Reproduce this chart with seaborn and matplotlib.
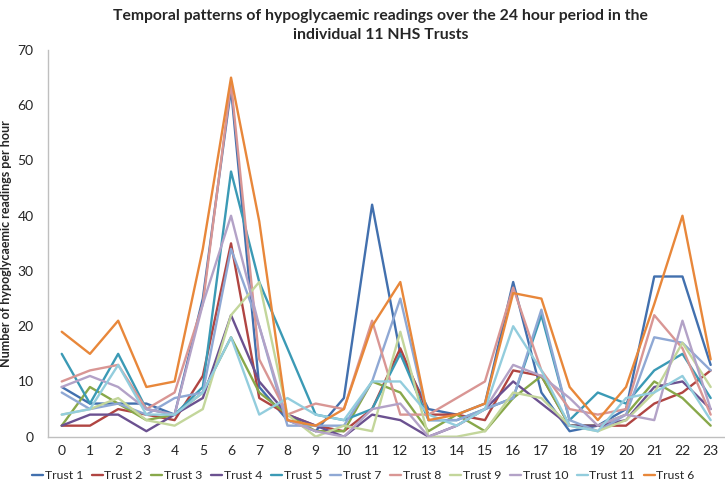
import matplotlib
matplotlib.use("Agg")
import matplotlib.pyplot as plt
import seaborn as sns
import pandas as pd

hours = list(range(24))

trust_1 = [9, 6, 6, 6, 4, 25, 63, 9, 3, 1, 7, 42, 15, 5, 4, 6, 28, 8, 1, 2, 5, 29, 29, 13]
trust_2 = [2, 2, 5, 4, 3, 11, 35, 7, 4, 2, 1, 5, 16, 4, 4, 3, 12, 11, 2, 2, 2, 6, 8, 12]
trust_3 = [2, 9, 6, 3, 4, 8, 18, 8, 4, 1, 1, 10, 8, 1, 4, 1, 7, 11, 2, 2, 4, 10, 7, 2]
trust_4 = [2, 4, 4, 1, 4, 7, 22, 10, 4, 2, 0, 4, 3, 0, 2, 5, 10, 6, 2, 2, 3, 9, 10, 5]
trust_5 = [15, 6, 15, 5, 4, 9, 48, 28, 16, 4, 3, 5, 15, 3, 3, 5, 7, 22, 3, 8, 6, 12, 15, 7]
trust_7 = [8, 5, 6, 4, 7, 8, 34, 20, 2, 2, 2, 10, 25, 3, 3, 5, 7, 23, 3, 1, 4, 18, 17, 12]
trust_8 = [10, 12, 13, 5, 8, 24, 64, 14, 4, 6, 5, 21, 4, 4, 7, 10, 27, 12, 5, 4, 5, 22, 16, 4]
trust_9 = [4, 5, 7, 3, 2, 5, 22, 28, 4, 0, 2, 1, 19, 0, 0, 1, 8, 7, 2, 1, 3, 8, 17, 9]
trust_10 = [9, 11, 9, 5, 4, 24, 40, 20, 3, 1, 0, 5, 6, 0, 2, 5, 13, 11, 7, 2, 4, 3, 21, 5]
trust_11 = [4, 5, 13, 4, 4, 8, 18, 4, 7, 4, 3, 10, 10, 4, 2, 5, 20, 12, 2, 1, 7, 8, 11, 3]
trust_6 = [19, 15, 21, 9, 10, 34, 65, 39, 3, 2, 5, 20, 28, 3, 4, 6, 26, 25, 9, 3, 9, 24, 40, 14]

series_names = ["Trust 1", "Trust 2", "Trust 3", "Trust 4", "Trust 5", "Trust 7",
                "Trust 8", "Trust 9", "Trust 10", "Trust 11", "Trust 6"]
series_values = [trust_1, trust_2, trust_3, trust_4, trust_5, trust_7,
                 trust_8, trust_9, trust_10, trust_11, trust_6]
colors = ["#4270AE", "#B04542", "#88A84A", "#6B5190", "#3B9AB5", "#8FA8D4",
          "#D99694", "#C3D69B", "#B3A2C7", "#93CDDD", "#E8873A"]

rows = []
for name, vals in zip(series_names, series_values):
    for h, v in zip(hours, vals):
        rows.append({"hour": h, "value": v, "trust": name})
df = pd.DataFrame(rows)

sns.set_style("white")
plt.rcParams["font.family"] = ["Lato", "DejaVu Sans"]

fig = plt.figure(figsize=(7.25, 4.84), dpi=100)
ax = fig.add_axes([0.0657, 0.0977, 0.934, 0.799])

sns.lineplot(data=df, x="hour", y="value", hue="trust", hue_order=series_names,
             palette=colors, linewidth=1.7, ax=ax, legend=True)

ax.set_xlim(-0.5, 23.5)
ax.set_ylim(0, 70)
ax.set_xticks(hours)
ax.set_xticklabels([str(h) for h in hours], fontsize=10)
ax.set_yticks(range(0, 71, 10))
ax.tick_params(axis="y", labelsize=10, length=0, pad=10)
ax.tick_params(axis="x", length=0, pad=6)
ax.set_xlabel("")
ax.set_ylabel("Number of hypoglycaemic readings per hour", fontsize=9, fontweight="bold", labelpad=4)
for s in ["top", "right"]:
    ax.spines[s].set_visible(False)
for s in ["left", "bottom"]:
    ax.spines[s].set_color("#BFBFBF")
    ax.spines[s].set_linewidth(1.0)

fig.suptitle("Temporal patterns of hypoglycaemic readings over the 24 hour period in the\nindividual 11 NHS Trusts",
             x=0.525, y=0.982, fontsize=11.3, fontweight="bold", linespacing=1.45)

handles, labels = ax.get_legend_handles_labels()
ax.legend(handles, labels, loc="lower center", bbox_to_anchor=(0.466, -0.115),
          ncol=11, frameon=False, fontsize=8.8, handlelength=0.9,
          handletextpad=0.15, columnspacing=0.7, borderaxespad=0, borderpad=0)

fig.savefig("out.png", dpi=100)
